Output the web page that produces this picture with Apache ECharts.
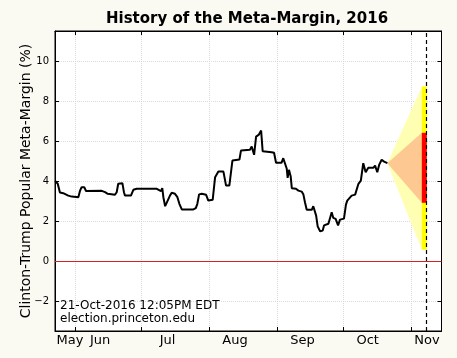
<!DOCTYPE html>
<html><head><meta charset="utf-8">
<script src="https://cdn.jsdelivr.net/npm/echarts@6/dist/echarts.min.js"></script>
<style>html,body{margin:0;padding:0;background:#fafaf3;}#c{width:457px;height:358px;}</style>
</head><body><div id="c"></div>
<script>
// x values: days since 2016-06-01
const mmDays = [-9.4,-8.2,-7.2,-5.7,-3.4,-1.8,1.2,2.0,2.7,3.9,4.7,11.9,13.4,14.6,17.9,18.7,19.4,20.2,21.3,22.0,
 22.5,25.2,26.3,27.8,37.0,37.7,38.9,39.5,40.0,40.8,41.5,42.3,43.0,43.8,45.3,46.4,47.3,48.4,53.7,54.8,
 55.5,56.3,56.7,57.5,59.5,60.5,62.5,63.6,65.1,67.4,68.6,70.1,71.5,74.7,75.4,79.5,80.3,81.4,82.3,83.6,
 84.6,85.3,89.4,90.5,91.4,93.9,94.7,95.5,96.3,96.7,97.3,98.1,98.6,100.5,101.6,103.1,103.9,104.6,105.4,107.7,
 108.4,109.2,109.7,110.4,111.5,112.7,113.3,115.3,116.8,117.5,118.6,119.7,120.6,122.4,123.3,123.9,125.9,127.5,129.0,130.1,
 131.2,132.3,133.5,135.8,136.6,137.6,138.5,139.6,140.7,142.2];
const mmValues = [4.0,3.86,3.42,3.39,3.27,3.22,3.19,3.52,3.69,3.69,3.5,3.51,3.44,3.36,3.31,3.44,3.86,3.91,3.89,3.44,
 3.27,3.27,3.56,3.61,3.61,3.52,3.49,3.64,3.19,2.74,2.91,2.81,3.27,3.41,3.36,3.19,2.86,2.58,2.58,2.64,
 2.86,3.33,3.41,3.36,3.31,3.02,3.06,4.19,4.47,4.47,3.77,3.77,5.02,5.07,5.52,5.56,5.72,5.31,6.22,6.32,
 6.52,5.49,5.44,5.41,4.91,4.91,5.14,5.14,4.61,4.16,4.56,4.22,3.64,3.61,3.52,3.47,3.32,2.94,2.56,2.56,
 2.74,2.72,2.27,1.73,1.49,1.52,1.78,1.86,2.44,2.16,2.11,1.78,2.07,2.12,2.82,3.02,3.27,3.32,3.86,4.02,
 4.89,4.44,4.66,4.66,4.77,4.44,4.82,5.06,4.97,4.89];
const monthStartDays = [0,30,61,92,122,153];
const monthLabelDays = [-2.6,11.1,41.9,72.7,103.5,133.2,160.3];
const monthLabels = ['May','Jun','Jul','Aug','Sep','Oct','Nov'];
const yTicks = [-2,0,2,4,6,8,10];
const electionDay = 160;
const coneStart = [142.2, 4.89];
const coneEndDay = 157.9;
const barEndDay = 160.2;
const cone2Sigma = [0.56, 8.72];
const cone1Sigma = [2.91, 6.41];

const xMin = -9.45, xMax = 166.9, yMin = -3.5, yMax = 11.5;
const lineData = mmDays.map((d,i)=>[d, mmValues[i]]);
const font = 'DejaVu Sans';
const fmtY = v => v < 0 ? '\u2212' + (-v) : String(v);
const gridColor = '#dadada';

const chart = echarts.init(document.getElementById('c'), null, {renderer:'canvas'});
chart.setOption({
  animation:false,
  backgroundColor:'#fafaf3',
  title:{text:'History of the Meta-Margin, 2016', left:101, top:7,
    textStyle:{fontFamily:font, fontWeight:'bold', fontSize:15, color:'#000'}},
  grid:{left:55, right:15.5, top:31, bottom:27, show:true, backgroundColor:'#fff', borderColor:'#000', borderWidth:1},
  xAxis:[{type:'value', min:xMin, max:xMax, position:'bottom',
      axisLine:{show:true, onZero:false, lineStyle:{color:'#000'}},
      axisTick:{show:true, inside:true, length:4, customValues:monthStartDays, lineStyle:{color:'#000'}},
      axisLabel:{customValues:monthLabelDays, formatter:v=>monthLabels[monthLabelDays.indexOf(v)],
        fontFamily:font, fontSize:13, color:'#000', margin:3},
      splitLine:{show:true, lineStyle:{type:'dotted', color:gridColor}}},
    {type:'value', min:xMin, max:xMax, position:'top',
      axisLine:{show:true, onZero:false, lineStyle:{color:'#000'}},
      axisTick:{show:true, inside:true, length:4, customValues:monthStartDays, lineStyle:{color:'#000'}},
      axisLabel:{show:false}, splitLine:{show:false}}],
  yAxis:[{type:'value', min:yMin, max:yMax, position:'left',
      name:'Clinton-Trump Popular Meta-Margin (%)', nameLocation:'middle', nameGap:22, nameMoveOverlap:false,
      nameTextStyle:{fontFamily:font, fontSize:14, color:'#000'},
      axisLine:{show:true, onZero:false, lineStyle:{color:'#000'}},
      axisTick:{show:true, inside:true, length:4, customValues:yTicks, lineStyle:{color:'#000'}},
      axisLabel:{customValues:yTicks, formatter:fmtY, fontFamily:font, fontSize:10, color:'#000', margin:6},
      splitLine:{show:true, lineStyle:{type:'dotted', color:gridColor}}},
    {type:'value', min:yMin, max:yMax, position:'right',
      axisLine:{show:true, onZero:false, lineStyle:{color:'#000'}},
      axisTick:{show:true, inside:true, length:4, customValues:yTicks, lineStyle:{color:'#000'}},
      axisLabel:{show:false}, splitLine:{show:false}}],
  graphic:[{type:'text', left:60, top:299, z:100,
    style:{text:'21-Oct-2016 12:05PM EDT\nelection.princeton.edu', font:'12px "DejaVu Sans"', lineHeight:13, fill:'#000'}}],
  series:[
    {type:'custom', coordinateSystem:'cartesian2d', z:1, silent:true,
      data:[coneStart],
      renderItem:function(params, api){
        const a = api.coord(coneStart);
        const o1 = api.coord([coneEndDay, cone2Sigma[1]]);
        const o2 = api.coord([coneEndDay, cone2Sigma[0]]);
        const i1 = api.coord([coneEndDay, cone1Sigma[1]]);
        const i2 = api.coord([coneEndDay, cone1Sigma[0]]);
        const bx = api.coord([barEndDay, 0])[0];
        return {type:'group', children:[
          {type:'polygon', shape:{points:[a,o1,o2]}, style:{fill:'#ffffb4'}},
          {type:'polygon', shape:{points:[a,i1,i2]}, style:{fill:'#fdc892'}},
          {type:'rect', shape:{x:o1[0], y:o1[1], width:bx-o1[0], height:o2[1]-o1[1]}, style:{fill:'#ffff00'}},
          {type:'rect', shape:{x:i1[0], y:i1[1], width:bx-i1[0], height:i2[1]-i1[1]}, style:{fill:'#ff0000'}}
        ]};
      }},
    {type:'line', data:lineData, showSymbol:false, z:5,
      lineStyle:{color:'#000', width:2}, silent:true,
      markLine:{silent:true, symbol:['none','none'], label:{show:false},
        lineStyle:{color:'#d42020', width:1, type:'solid'}, data:[{yAxis:0}]}},
    {type:'line', data:[], z:10,
      markLine:{silent:true, symbol:['none','none'], label:{show:false},
        lineStyle:{color:'#000', width:1.2, type:[4,3]}, data:[{xAxis:electionDay}]}}
  ]
});
</script></body></html>
